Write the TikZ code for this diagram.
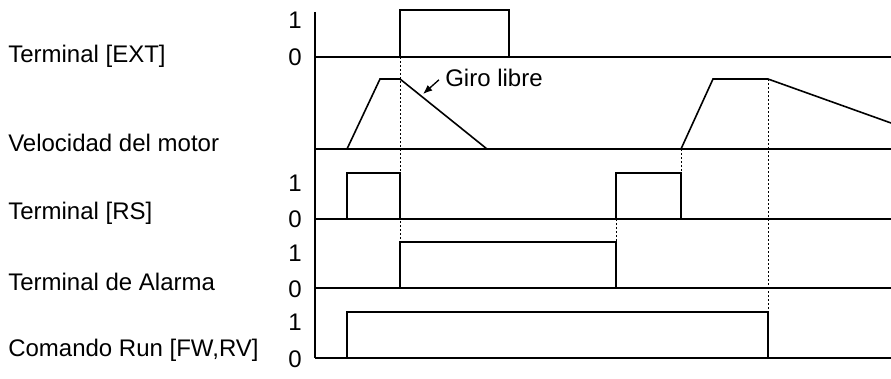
\documentclass[tikz,border=0pt]{standalone}
\usepackage{fontspec}
\setmainfont{Liberation Sans}
\usepackage{tikz}
\usetikzlibrary{arrows.meta}

\begin{document}
\begin{tikzpicture}[
        x=0.75pt, y=-0.75pt,
        label/.style={anchor=west, inner sep=0pt, font=\fontsize{18}{22}\selectfont},
        level/.style={inner sep=0pt, font=\fontsize{18}{22}\selectfont},
        wave/.style={line width=1.2pt, line join=miter},
        guide/.style={line width=0.5pt, dash pattern=on 1.5pt off 1.5pt}
    ]
        \useasboundingbox (0,0) rectangle (891,378);

        \node[label] (ext) at (8,56) {Terminal [EXT]};
        \node[label] (motor) at (8,143) {Velocidad del motor};
        \node[label] (rs) at (8,213) {Terminal [RS]};
        \node[label] (alarma) at (8,282) {Terminal de Alarma};
        \node[label] (run) at (8,350) {Comando Run [FW,RV]};

        \node[level] (ext1) at (295,20) {1};
        \node[level] (ext0) at (295,57) {0};
        \node[level] (rs1) at (295,183) {1};
        \node[level] (rs0) at (295,219) {0};
        \node[level] (alarma1) at (295,253) {1};
        \node[level] (alarma0) at (295,289) {0};
        \node[level] (run1) at (295,322) {1};
        \node[level] (run0) at (295,359) {0};

        \draw[wave] (315,12) -- (315,358);
        \draw[wave] (315,57) -- (891,57);
        \draw[wave] (315,149) -- (891,149);
        \draw[wave] (315,219) -- (891,219);
        \draw[wave] (315,288) -- (891,288);
        \draw[wave] (315,358) -- (891,358);

        \draw[wave] (400,57) -- (400,10) -- (509,10) -- (509,57);
        \draw[wave] (347,149) -- (380,79) -- (400,79) -- (487,149);
        \draw[wave] (681,149) -- (713,79) -- (768,79) -- (891,123);
        \draw[wave] (347,219) -- (347,173) -- (400,173) -- (400,219);
        \draw[wave] (616,219) -- (616,173) -- (681,173) -- (681,219);
        \draw[wave] (400,288) -- (400,242) -- (616,242) -- (616,288);
        \draw[wave] (347,358) -- (347,312) -- (768,312) -- (768,358);

        \draw[guide] (400,57) -- (400,242);
        \draw[guide] (681,149) -- (681,173);
        \draw[guide] (616,219) -- (616,242);
        \draw[guide] (768,79) -- (768,312);

        \node[label, inner sep=3pt] (giro) at (441,78) {Giro libre};
        \coordinate (giro tip) at (423,94);
        \draw[line width=1pt, -{Latex[length=7pt,width=5.5pt]}, shorten <=2pt] (giro.west) -- (giro tip);
    \end{tikzpicture}
\end{document}
